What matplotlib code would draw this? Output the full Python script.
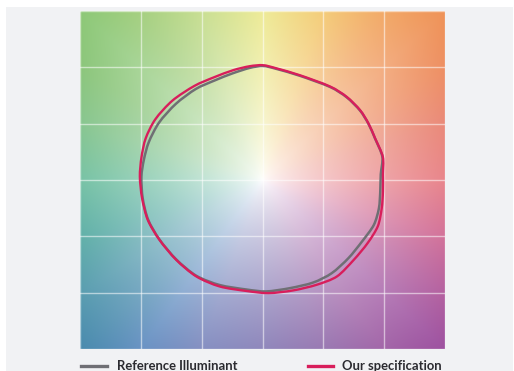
import numpy as np
import matplotlib
matplotlib.use("Agg")
import matplotlib.pyplot as plt
from matplotlib.patches import Rectangle, PathPatch
from matplotlib.path import Path
from matplotlib.colors import to_rgb

# ---- data: normalised colour vector graphic (a', b') ----
ref_x = [0.005, 0.115, 0.307, 0.555, 0.692, 0.802, 0.871, 0.926, 0.985, 0.972, 0.968,
         0.957, 0.915, 0.818, 0.706, 0.569, 0.417, 0.225, 0.030, -0.132, -0.352, -0.544,
         -0.709, -0.847, -0.940, -0.985, -0.995, -0.975, -0.935, -0.850, -0.712, -0.548,
         -0.390, -0.250, -0.105]
ref_y = [1.012, 0.986, 0.925, 0.826, 0.734, 0.616, 0.498, 0.366, 0.206, 0.050, -0.100,
         -0.250, -0.399, -0.546, -0.694, -0.827, -0.910, -0.960, -0.989, -0.972, -0.932,
         -0.850, -0.705, -0.528, -0.352, -0.160, 0.030, 0.180, 0.335, 0.510, 0.676, 0.808,
         0.885, 0.945, 0.995]

spec_x = [0.005, 0.115, 0.307, 0.555, 0.692, 0.802, 0.871, 0.926, 0.989, 0.990, 0.990,
          0.980, 0.948, 0.864, 0.750, 0.612, 0.445, 0.252, 0.050, -0.132, -0.352, -0.544,
          -0.709, -0.847, -0.943, -0.990, -1.008, -0.995, -0.960, -0.880, -0.740, -0.560,
          -0.400, -0.240, -0.105]
spec_y = [1.019, 0.991, 0.930, 0.830, 0.738, 0.620, 0.502, 0.369, 0.206, 0.050, -0.100,
          -0.250, -0.410, -0.560, -0.709, -0.856, -0.930, -0.980, -1.004, -0.985, -0.945,
          -0.856, -0.709, -0.531, -0.354, -0.160, 0.030, 0.200, 0.370, 0.540, 0.705, 0.835,
          0.911, 0.975, 1.010]

labels = ["Reference Illuminant", "Our specification"]

# ---- style ----
GRAY = "#6f6f74"
RED = "#d81e5b"
PANEL = "#f1f2f4"

# background hue stops sampled around the plot border (clockwise from top-left)
edge_pts = [(-1.5, 1.5), (-1.0, 1.5), (-0.5, 1.5), (0.0, 1.5), (0.5, 1.5), (1.0, 1.5), (1.5, 1.5),
            (1.5, 1.0), (1.5, 0.5), (1.5, 0.0), (1.5, -0.5), (1.5, -1.0), (1.5, -1.5),
            (1.0, -1.5), (0.5, -1.5), (0.0, -1.5), (-0.5, -1.5), (-1.0, -1.5), (-1.5, -1.5),
            (-1.5, -1.0), (-1.5, -0.5), (-1.5, 0.0), (-1.5, 0.5), (-1.5, 1.0)]
edge_cols = ["#8dc877", "#a6d081", "#c9df93", "#eeeb98", "#f4cd7a", "#f2aa68", "#ef9358",
             "#ee9064", "#ea8a7a", "#e9868c", "#d3739a", "#b562a0", "#9e52a0",
             "#a367a9", "#9a7ab3", "#9088bc", "#8690c2", "#6a93c4", "#4a8bae",
             "#5a9eb0", "#62b1a9", "#78c3a6", "#88c690", "#8cc67c"]

ang = np.array([np.arctan2(y, x) for x, y in edge_pts])
cols = np.array([to_rgb(c) for c in edge_cols])
order = np.argsort(ang)
ang = ang[order]
cols = cols[order]
ang_ext = np.concatenate([ang[-1:] - 2 * np.pi, ang, ang[:1] + 2 * np.pi])
cols_ext = np.concatenate([cols[-1:], cols, cols[:1]])

n = 400
g = np.linspace(-1.5, 1.5, n)
X, Y = np.meshgrid(g, g[::-1])
TH = np.arctan2(Y, X)
R = np.hypot(X, Y)
RB = 1.5 / np.maximum(np.abs(np.cos(TH)), np.abs(np.sin(TH)))
S = np.clip(R / RB, 0, 1) ** 0.7
img = np.ones((n, n, 3))
for k in range(3):
    ck = np.interp(TH.ravel(), ang_ext, cols_ext[:, k]).reshape(n, n)
    img[..., k] = 1 + (ck - 1) * S


def smooth_closed_path(xs, ys, t=1 / 7.0):
    """Closed cardinal-spline curve through the points, rendered as cubic Beziers."""
    p = np.column_stack([xs, ys])
    m = len(p)
    verts = [p[0]]
    codes = [Path.MOVETO]
    for i in range(m):
        p0, p1, p2, p3 = p[i - 1], p[i], p[(i + 1) % m], p[(i + 2) % m]
        c1 = p1 + (p2 - p0) * t
        c2 = p2 - (p3 - p1) * t
        verts += [c1, c2, p2]
        codes += [Path.CURVE4] * 3
    return Path(np.array(verts), codes)


fig = plt.figure(figsize=(5.14, 3.71), dpi=100)
fig.patch.set_facecolor("white")
fig.patches.append(Rectangle((6 / 514, 0), 507 / 514, 1 - 7 / 371, transform=fig.transFigure,
                             facecolor=PANEL, edgecolor="none", zorder=-10))

ax = fig.add_axes([80 / 514, 1 - 349 / 371, 365 / 514, 338 / 371])
ax.imshow(img, extent=(-1.5, 1.5, -1.5, 1.5), aspect="auto", interpolation="bilinear", zorder=0)
ax.set_xlim(-1.5, 1.5)
ax.set_ylim(-1.5, 1.5)
for v in np.arange(-1.5, 1.51, 0.5):
    ax.axvline(v, color="white", lw=1.0, alpha=0.55, zorder=1)
    ax.axhline(v, color="white", lw=1.0, alpha=0.55, zorder=1)
ax.set_xticks([])
ax.set_yticks([])
for s in ax.spines.values():
    s.set_visible(False)

ax.add_patch(PathPatch(smooth_closed_path(ref_x, ref_y), facecolor="none", edgecolor=GRAY,
                       lw=1.8, zorder=3, joinstyle="round"))
ax.add_patch(PathPatch(smooth_closed_path(spec_x, spec_y), facecolor="none", edgecolor=RED,
                       lw=1.7, zorder=4, joinstyle="round"))

# legend
ly = 1 - 366 / 371
by = 1 - 370 / 371
fig.add_artist(plt.Line2D([81 / 514, 107 / 514], [ly, ly], color=GRAY, lw=2.4,
                          transform=fig.transFigure))
fig.add_artist(plt.Line2D([308 / 514, 333 / 514], [ly, ly], color=RED, lw=2.4,
                          transform=fig.transFigure))
fig.text(117 / 514, by, labels[0], fontsize=9.4, fontweight="bold", family="Lato",
         color="#2b2b30", va="baseline")
fig.text(342 / 514, by, labels[1], fontsize=9.4, fontweight="bold", family="Lato",
         color="#2b2b30", va="baseline")

fig.savefig("out.png", dpi=100, facecolor=fig.get_facecolor())
